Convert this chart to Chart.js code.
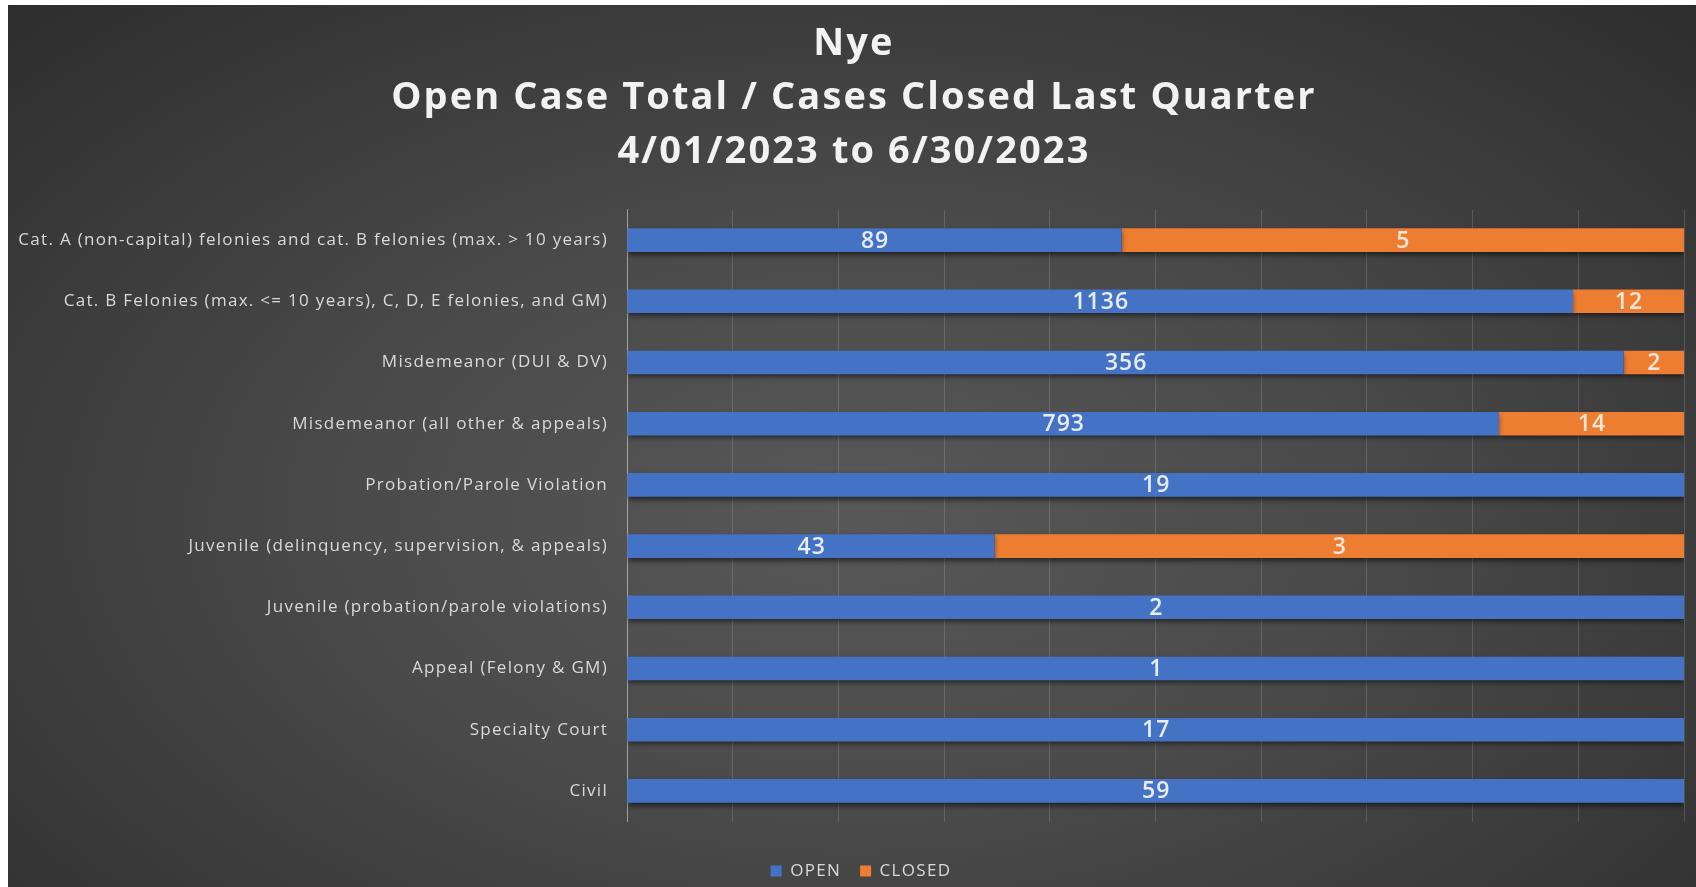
<!DOCTYPE html>
<html>
<head>
<meta charset="utf-8">
<script src="https://cdn.jsdelivr.net/npm/chart.js@4.4.1/dist/chart.umd.min.js"></script>
<style>
  html, body { margin: 0; padding: 0; background: #ffffff; }
  #wrap {
    position: absolute; left: 8px; top: 5px; width: 1688px; height: 882px;
    background: radial-gradient(ellipse 75% 85% at 50% 58%, #585858 0%, #4a4a4a 40%, #2b2b2b 100%);
  }
  canvas { display: block; }
</style>
</head>
<body>
<div id="wrap"><canvas id="chart"></canvas></div>
<script>
const categories = [
  "Cat. A (non-capital) felonies and cat. B felonies (max. > 10 years)",
  "Cat. B Felonies (max. <= 10 years), C, D, E felonies, and GM)",
  "Misdemeanor (DUI & DV)",
  "Misdemeanor (all other & appeals)",
  "Probation/Parole Violation",
  "Juvenile (delinquency, supervision, & appeals)",
  "Juvenile (probation/parole violations)",
  "Appeal (Felony & GM)",
  "Specialty Court",
  "Civil",
];

// bar lengths as share of the row (%)
const openShare = [46.8, 89.5, 94.3, 82.5, 100, 34.8, 100, 100, 100, 100];
const closedShare = [53.2, 10.5, 5.7, 17.5, 0, 65.2, 0, 0, 0, 0];

// counts printed on the bars
const openLabels = [89, 1136, 356, 793, 19, 43, 2, 1, 17, 59];
const closedLabels = [5, 12, 2, 14, null, 3, null, null, null, null];

const titleLines = ["Nye", "Open Case Total / Cases Closed Last Quarter", "4/01/2023 to 6/30/2023"];
const xTicks = [0, 10, 20, 30, 40, 50, 60, 70, 80, 90, 100];

const FONT = "'Open Sans', 'Noto Sans', sans-serif";

// the excel render is wide-set, so widen some of the text a bit
function spaced(box, ls) {
  if (!box || box._spaced) return;
  ["fit", "draw"].forEach((fn) => {
    if (typeof box[fn] !== "function") return;
    const orig = box[fn];
    box[fn] = function (...args) {
      const ctx = this.ctx || box.ctx;
      const prev = ctx.letterSpacing;
      ctx.letterSpacing = ls;
      const r = orig.apply(this, args);
      ctx.letterSpacing = prev;
      return r;
    };
  });
  box._spaced = true;
}

const letterSpacing = {
  id: "letterSpacing",
  beforeDraw(chart) {
    spaced(chart.titleBlock, "2.1px");
    spaced(chart.legend, "1.3px");
    spaced(chart.scales.y, "1.3px");
  },
};

// title and legend sit a little right of the canvas centre in the original
const nudge = {
  id: "nudge",
  afterLayout(chart) {
    const t = chart.titleBlock;
    const l = chart.legend;
    if (t) { t.left += 8; t.right += 8; }
    if (l) { l.left += 15; l.right += 15; }
  },
};

const barShadow = {
  id: "barShadow",
  beforeDatasetsDraw(chart) {
    const ctx = chart.ctx;
    ctx.save();
    ctx.shadowColor = "rgba(0,0,0,0.55)";
    ctx.shadowBlur = 5;
    ctx.shadowOffsetY = 3;
  },
  afterDatasetsDraw(chart) {
    chart.ctx.restore();
  },
};

const barLabels = {
  id: "barLabels",
  afterDraw(chart) {
    const ctx = chart.ctx;
    const sets = [openLabels, closedLabels];
    ctx.save();
    ctx.font = "600 23px " + FONT;
    ctx.letterSpacing = "1px";
    ctx.textAlign = "center";
    ctx.textBaseline = "middle";
    sets.forEach((labels, i) => {
      const meta = chart.getDatasetMeta(i);
      meta.data.forEach((bar, j) => {
        const v = labels[j];
        if (v == null) return;
        const p = bar.getProps(["x", "y", "base"], true);
        ctx.fillStyle = i === 0 ? "#e8ecf5" : "#f8e6d8";
        ctx.fillText(String(v), (p.x + p.base) / 2 + 0.5, p.y + 1);
      });
    });
    ctx.restore();
  },
};

const chart = new Chart(document.getElementById("chart"), {
  type: "bar",
  data: {
    labels: categories,
    datasets: [
      {
        label: "OPEN",
        data: openShare,
        backgroundColor: "#4472c4",
        borderWidth: 0,
        barPercentage: 0.385,
        categoryPercentage: 1,
      },
      {
        label: "CLOSED",
        data: closedShare,
        backgroundColor: "#ed7d31",
        borderWidth: 0,
        barPercentage: 0.385,
        categoryPercentage: 1,
      },
    ],
  },
  options: {
    indexAxis: "y",
    responsive: true,
    maintainAspectRatio: false,
    animation: false,
    layout: { padding: { left: 0, right: 12, top: 0, bottom: -2.5 } },
    scales: {
      x: {
        stacked: true,
        min: 0,
        max: 100,
        afterBuildTicks: (scale) => {
          scale.ticks = xTicks.map((v) => ({ value: v }));
        },
        afterFit: (scale) => {
          scale.height = 22;
        },
        ticks: { display: false },
        grid: { color: "rgba(255,255,255,0.14)", lineWidth: 1, drawTicks: false },
        border: { display: false },
      },
      y: {
        stacked: true,
        afterFit: (scale) => {
          scale.width = 619;
        },
        ticks: {
          color: "#d9d9d9",
          padding: 19,
          font: { family: FONT, size: 17 },
          autoSkip: false,
        },
        grid: { display: false, drawTicks: false },
        border: { display: true, color: "rgba(255,255,255,0.4)", width: 1 },
      },
    },
    plugins: {
      title: {
        display: true,
        text: titleLines,
        color: "#f2f2f2",
        font: { family: FONT, size: 38, weight: "bold", lineHeight: 1.421 },
        padding: { top: 12, bottom: 30.5 },
      },
      legend: {
        position: "bottom",
        labels: {
          color: "#d9d9d9",
          boxWidth: 11,
          boxHeight: 11,
          padding: 19,
          font: { family: FONT, size: 17 },
        },
      },
      tooltip: { enabled: false },
    },
  },
  plugins: [letterSpacing, nudge, barShadow, barLabels],
});
// legend widths were measured before the spacing was applied
chart.update();
</script>
</body>
</html>
